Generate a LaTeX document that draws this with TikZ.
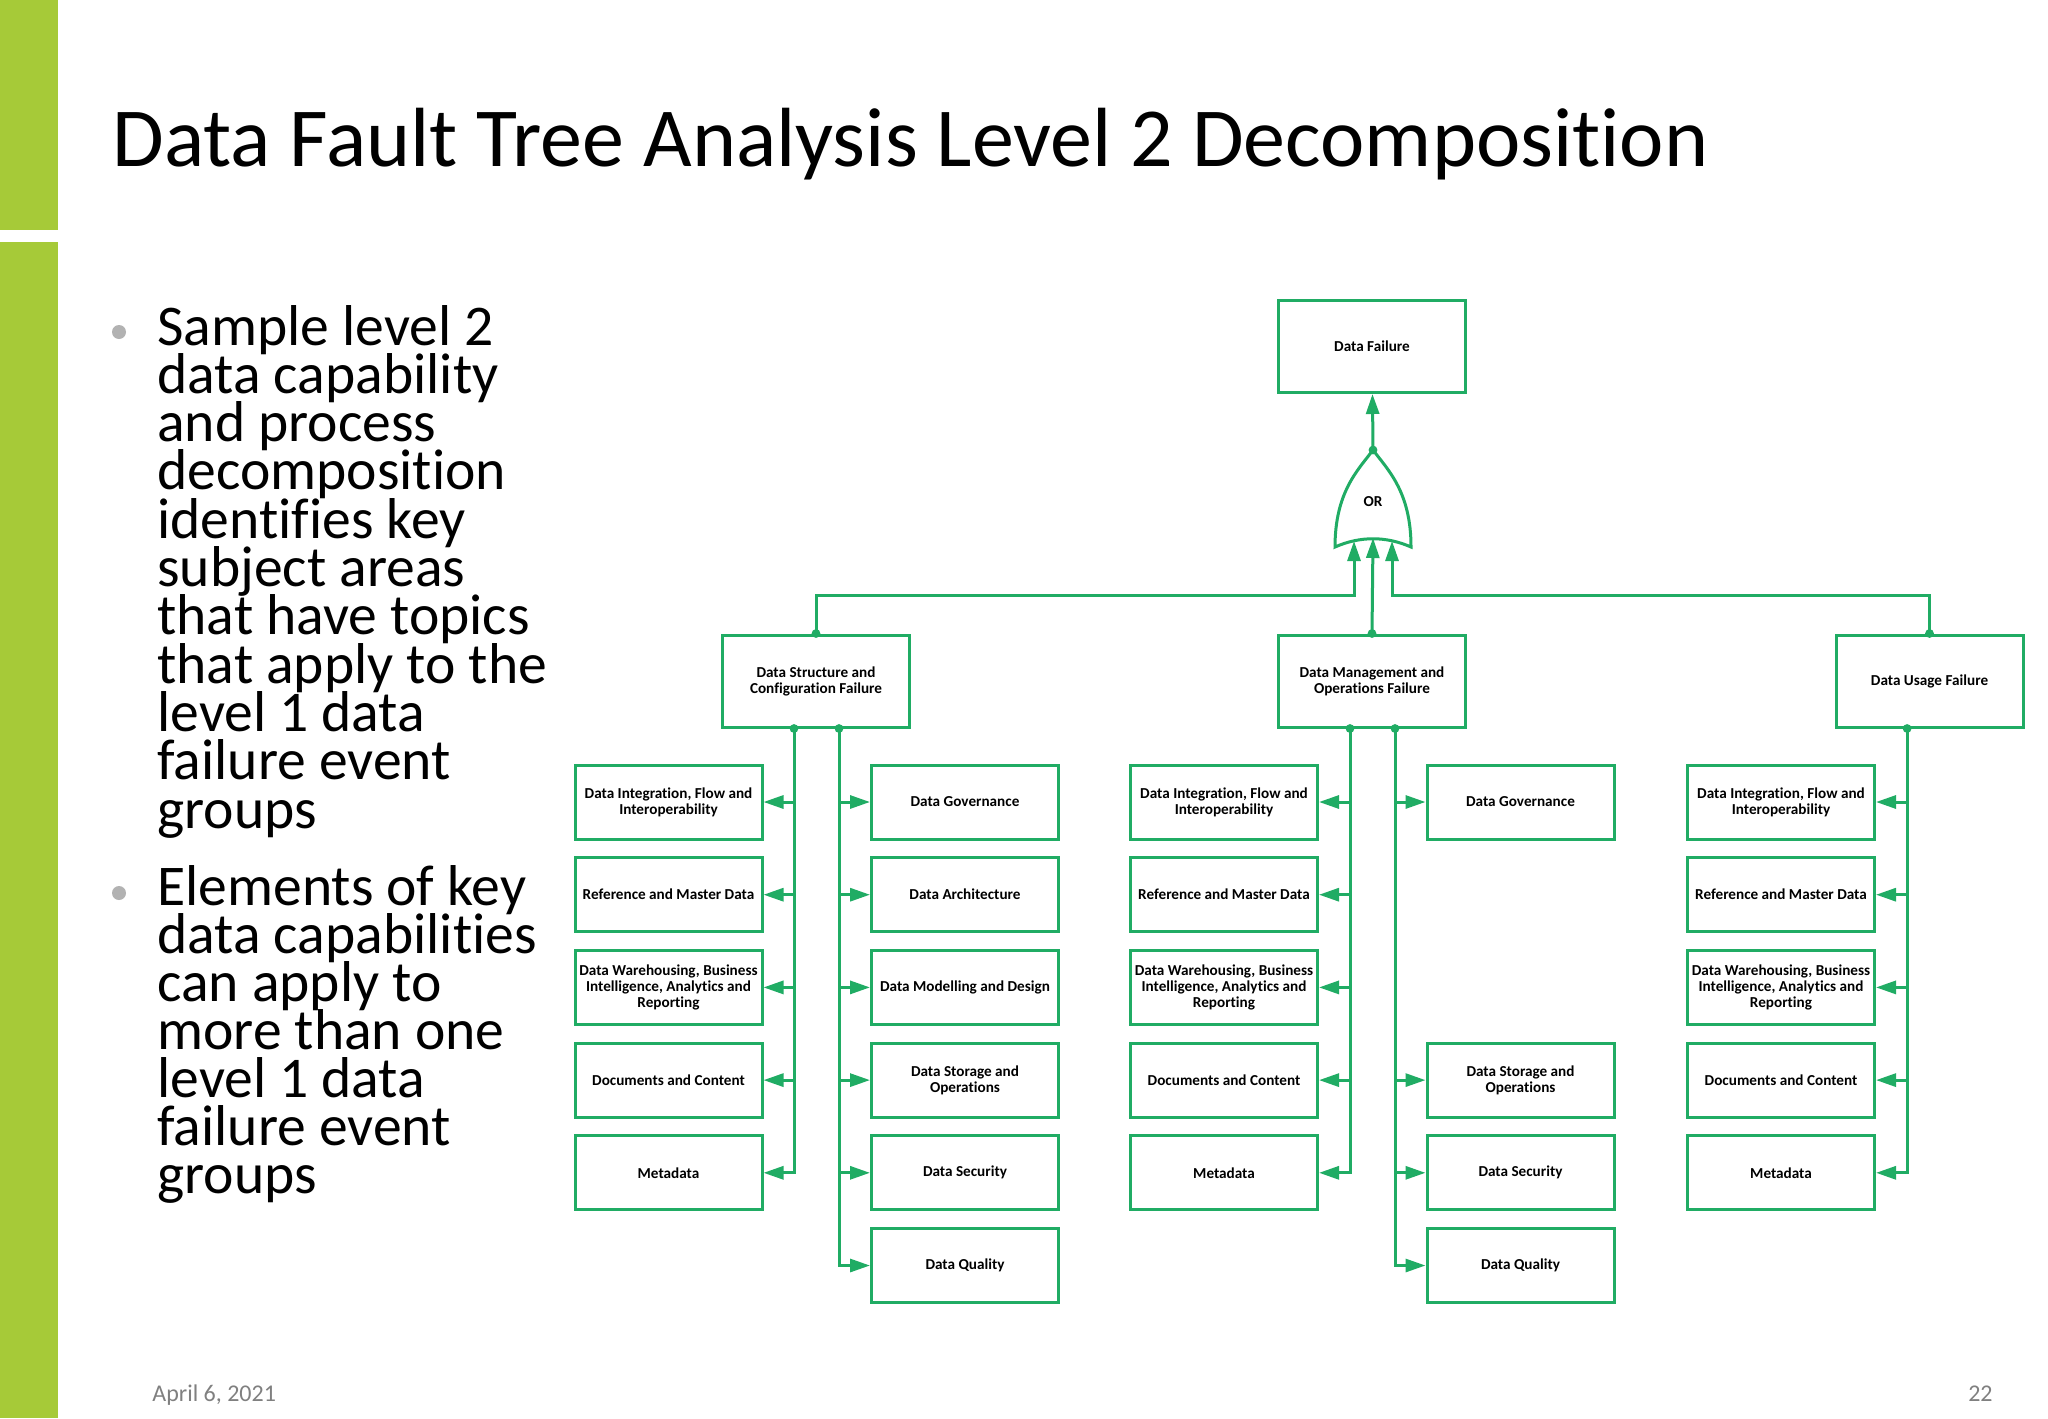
\documentclass[tikz,border=0pt]{standalone}
\usepackage{fontspec}
\setmainfont{Carlito}[Ligatures=CommonOff]
\usetikzlibrary{arrows.meta}

\definecolor{ftgreen}{RGB}{32,172,100}
\definecolor{barlime}{RGB}{166,202,56}
\definecolor{footgray}{RGB}{128,128,128}
\definecolor{dotgray}{RGB}{178,178,178}

\tikzset{
  evt/.style={draw=ftgreen, line width=1.5pt, fill=white, minimum width=93.5pt,
    minimum height=37pt, inner sep=0pt, align=center,
    font=\fontsize{7.6}{8}\selectfont\bfseries},
  topevt/.style={evt, minimum height=46pt},
  wire/.style={ftgreen, line width=1.5pt},
  feed/.style={wire, -{Triangle[length=10pt,width=6.5pt]}},
  blt/.style={anchor=base west, inner sep=0pt, font=\fontsize{28.8}{24}\selectfont},
  foot/.style={anchor=base west, inner sep=0pt, text=footgray, font=\fontsize{12}{12}\selectfont}
}

\begin{document}
\begin{tikzpicture}[x=0.5pt, y=-0.5pt] % 1 unit = 1 px of the slide
  \useasboundingbox[fill=white] (0,0) rectangle (2048,1418);
  % side bar and title
  \fill[barlime] (0,0) rectangle (58,230);
  \fill[barlime] (0,242) rectangle (58,1418);
  \node[anchor=base west, inner sep=0pt, font=\fontsize{42}{42}\selectfont] (title) at (112,166)
    {Data Fault Tree Analysis Level 2 Decomposition};

  % bullets
  \fill[dotgray] (119,332) circle (3.5pt);
  \fill[dotgray] (119,893) circle (3.5pt);
  \foreach \t [count=\i] in {Sample level 2, data capability, and process, decomposition,
      identifies key, subject areas, that have topics, that apply to the, level 1 data,
      failure event, groups}
    \node[blt] (pa\i) at (157,{345+48.3*(\i-1)}) {\t};
  \foreach \t [count=\i] in {Elements of key, data capabilities, can apply to, more than one,
      level 1 data, failure event, groups}
    \node[blt] (pb\i) at (157,{905+48.1*(\i-1)}) {\t};

  % footer
  \node[foot] (date) at (152,1401) {April 6, 2021};
  \node[foot, anchor=base east] (page) at (1993,1401) {22};

  % top event and level 1 events
  \node[topevt] (df) at (1372,346.5) {Data Failure};
  \node[topevt] (dsf) at (816,681) {Data Structure and\\Configuration Failure};
  \node[topevt] (dmf) at (1372,681) {Data Management and\\Operations Failure};
  \node[topevt] (duf) at (1929.5,681) {Data Usage Failure};

  % OR gate
  \coordinate (gtip) at (1373,450);
  \coordinate (gin1) at (1354,541);
  \coordinate (gin2) at (1373,538);
  \coordinate (gin3) at (1392,541);
  \coordinate (bus) at (1373,595);
  \draw[feed] (dsf.north) -- (dsf.north |- bus) -- (gin1 |- bus) -- (gin1);
  \draw[feed] (duf.north) -- (duf.north |- bus) -- (gin3 |- bus) -- (gin3);
  \draw[feed] (dmf.north) -- (gin2);
  \draw[wire, fill=white] (1335,547) .. controls (1335,492) and (1358,470) .. (gtip)
    .. controls (1388,470) and (1411,492) .. (1411,547)
    .. controls (1386,536) and (1360,536) .. cycle;
  \node[font=\fontsize{7.6}{8}\selectfont\bfseries] (orlbl) at (1373,502) {OR};
  \draw[feed] (gtip) -- (df);

  % level 2 events
  \foreach \r/\t in {1/{Data Integration, Flow and\\Interoperability}, 2/Reference and Master Data,
      3/{Data Warehousing, Business\\Intelligence, Analytics and\\Reporting},
      4/Documents and Content, 5/Metadata} {
    \node[evt] (sl\r) at (668.5,{709.3+92.7*\r}) {\t};
    \node[evt] (ml\r) at (1224,{709.3+92.7*\r}) {\t};
    \node[evt] (ul\r) at (1781,{709.3+92.7*\r}) {\t};
  }
  \foreach \r/\t in {1/Data Governance, 2/Data Architecture, 3/Data Modelling and Design,
      4/{Data Storage and\\Operations}, 5/Data Security, 6/Data Quality}
    \node[evt] (sr\r) at (965,{709.3+92.7*\r}) {\t};
  \foreach \r/\t in {1/Data Governance, 4/{Data Storage and\\Operations}, 5/Data Security,
      6/Data Quality}
    \node[evt] (mr\r) at (1520.5,{709.3+92.7*\r}) {\t};

  % branch points
  \coordinate (sAl) at ([xshift=-11pt]dsf.south);
  \coordinate (sAr) at ([xshift=11.5pt]dsf.south);
  \coordinate (mBl) at ([xshift=-11pt]dmf.south);
  \coordinate (mBr) at ([xshift=11.5pt]dmf.south);
  \coordinate (uCl) at ([xshift=-11.2pt]duf.south);

  \draw[feed] (sAl) |- (sl5);
  \draw[feed] (sAr) |- (sr6);
  \draw[feed] (mBl) |- (ml5);
  \draw[feed] (mBr) |- (mr6);
  \draw[feed] (uCl) |- (ul5);
  \foreach \r in {1,...,4} {
    \draw[feed] (sAl |- sl\r) -- (sl\r);
    \draw[feed] (mBl |- ml\r) -- (ml\r);
    \draw[feed] (uCl |- ul\r) -- (ul\r);
  }
  \foreach \r in {1,...,5}
    \draw[feed] (sAr |- sr\r) -- (sr\r);
  \foreach \r in {1,4,5}
    \draw[feed] (mBr |- mr\r) -- (mr\r);

  % junction dots
  \foreach \p in {dsf.north, dmf.north, duf.north, gtip, sAl, sAr, mBl, mBr, uCl}
    \fill[ftgreen] (\p) circle (2.2pt);
\end{tikzpicture}
\end{document}
